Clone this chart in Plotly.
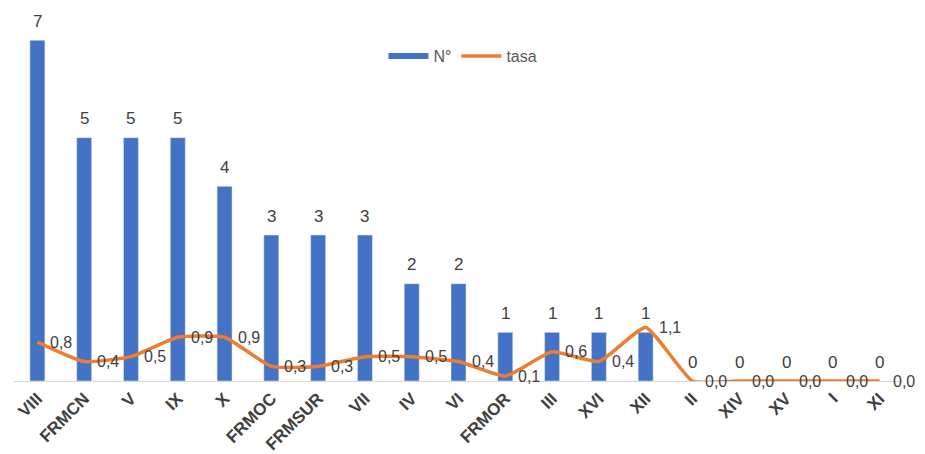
import plotly.graph_objects as go

categorias = ["VIII", "FRMCN", "V", "IX", "X", "FRMOC", "FRMSUR", "VII", "IV", "VI",
              "FRMOR", "III", "XVI", "XII", "II", "XIV", "XV", "I", "XI"]
numero = [7, 5, 5, 5, 4, 3, 3, 3, 2, 2, 1, 1, 1, 1, 0, 0, 0, 0, 0]
tasa = [0.8, 0.4, 0.5, 0.9, 0.9, 0.3, 0.3, 0.5, 0.5, 0.4, 0.1, 0.6, 0.4, 1.1, 0.0, 0.0, 0.0, 0.0, 0.0]

AZUL = "#4472C4"
NARANJA = "#ED7D31"
TEXTO = "#404040"
FUENTE = "Liberation Sans, Arial, sans-serif"

fig = go.Figure()
fig.add_trace(go.Bar(
    x=categorias, y=numero, name="N°", marker_color=AZUL, showlegend=False,
))
# legend entry styled as a wide band like the original
fig.add_trace(go.Scatter(x=[None], y=[None], mode="lines", name="N°",
                         line=dict(color=AZUL, width=6)))
fig.add_trace(go.Scatter(
    x=categorias, y=tasa, name="tasa", mode="lines",
    line=dict(color=NARANJA, width=3.5, shape="spline", smoothing=0.45),
    cliponaxis=False,
))
for c, n in zip(categorias, numero):
    fig.add_annotation(x=c, y=n, text=str(n), showarrow=False, yshift=19,
                       font=dict(size=17, color=TEXTO, family=FUENTE))
for c, t in zip(categorias, tasa):
    fig.add_annotation(x=c, y=t, text=f"{t:.1f}".replace(".", ","), showarrow=False,
                       xshift=24, font=dict(size=16, color=TEXTO, family=FUENTE))

fig.update_layout(
    width=917, height=446,
    margin=dict(l=6, r=22, t=8, b=73),
    paper_bgcolor="white", plot_bgcolor="white",
    bargap=0.68,
    showlegend=True,
    legend=dict(orientation="h", x=0.505, y=0.89, xanchor="center", yanchor="middle",
                font=dict(size=16, color="#595959", family=FUENTE), itemwidth=40,
                bgcolor="rgba(0,0,0,0)"),
    font=dict(family=FUENTE, color=TEXTO),
)
fig.update_xaxes(tickangle=-45, automargin=False, range=[-0.5, len(categorias) - 0.5],
                 tickfont=dict(size=17, color=TEXTO, family=FUENTE, weight="bold"),
                 showline=True, linecolor="#D9D9D9", linewidth=1, ticks="")
fig.update_yaxes(range=[0, 7.5], automargin=False, showgrid=False, zeroline=False,
                 showticklabels=False, showline=False)

fig.write_html("out.html")
